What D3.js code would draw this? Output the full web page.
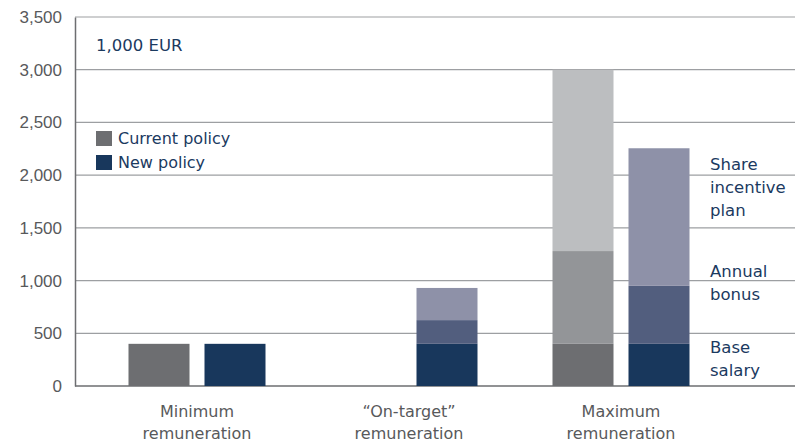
<!DOCTYPE html>
<html>
<head>
<meta charset="utf-8">
<script src="https://cdn.jsdelivr.net/npm/d3@7"></script>
<style>
  body { margin: 0; background: #fff; }
  svg { font-family: "DejaVu Sans", sans-serif; }
</style>
</head>
<body>
<svg id="chart" width="795" height="439"></svg>
<script>
const categories = ['Minimum remuneration', '\u201COn-target\u201D remuneration', 'Maximum remuneration'];
const policies = ['Current policy', 'New policy'];
const components = ['Base salary', 'Annual bonus', 'Share incentive plan'];
// values in 1,000 EUR: [base, bonus, share]
const currentPolicy = [[400, 0, 0], [0, 0, 0], [400, 880, 1720]];
const newPolicy = [[400, 0, 0], [400, 225, 305], [400, 550, 1305]];
const yTicks = [0, 500, 1000, 1500, 2000, 2500, 3000, 3500];

const colors = {
  'Current policy': ['#6d6e71', '#939598', '#bcbec0'],
  'New policy': ['#18375c', '#525e7e', '#8e91a8'],
};
const textColor = '#1b3a5f';
const axisColor = '#58595b';

const svg = d3.select('#chart');
const margin = {top: 17, left: 75, bottom: 53};
const height = 439 - margin.bottom;

const x = d3.scaleBand()
    .domain(categories)
    .range([91, 727]);

const xInner = d3.scaleBand()
    .domain(policies)
    .range([0, 137])
    .paddingInner(15 / 76);

const y = d3.scaleLinear()
    .domain([0, 3500])
    .range([height, margin.top]);

// gridlines
svg.append('g')
    .selectAll('line')
    .data(yTicks)
    .enter().append('line')
    .attr('x1', margin.left)
    .attr('x2', 795)
    .attr('y1', d => y(d))
    .attr('y2', d => y(d))
    .attr('stroke', d => d === 0 ? '#6d6e71' : '#9d9fa2')
    .attr('stroke-width', d => d === 0 ? 1.5 : 1.2);

// y axis
const yAxis = svg.append('g')
    .attr('transform', `translate(${margin.left},0)`)
    .call(d3.axisLeft(y).tickValues(yTicks).tickSize(0).tickPadding(13).tickFormat(d3.format(',')));
yAxis.select('.domain').attr('stroke', '#6d6e71').attr('stroke-width', 1.5);
yAxis.selectAll('text')
    .attr('fill', axisColor)
    .style('font-size', '17px');

// stacked bars
const data = [];
categories.forEach((cat, i) => {
  [currentPolicy, newPolicy].forEach((series, p) => {
    let base = 0;
    series[i].forEach((v, c) => {
      if (v > 0) {
        data.push({cat, policy: policies[p], comp: c, y0: base, y1: base + v});
      }
      base += v;
    });
  });
});

const cx = cat => x(cat) + (x.bandwidth() - 137) / 2;

svg.append('g')
    .selectAll('rect')
    .data(data)
    .enter().append('rect')
    .attr('x', d => cx(d.cat) + xInner(d.policy))
    .attr('width', xInner.bandwidth())
    .attr('y', d => y(d.y1))
    .attr('height', d => y(d.y0) - y(d.y1))
    .attr('fill', d => colors[d.policy][d.comp]);

// category labels (second line is clipped by the picture edge, as in the original)
const xl = svg.append('g');
categories.forEach(cat => {
  const words = cat.split(' ');
  const t = xl.append('text')
      .attr('x', x(cat) + x.bandwidth() / 2)
      .attr('y', 417)
      .attr('text-anchor', 'middle')
      .attr('fill', axisColor)
      .style('font-size', '16px');
  words.forEach((w, k) => {
    t.append('tspan')
        .attr('x', x(cat) + x.bandwidth() / 2)
        .attr('dy', k === 0 ? 0 : 22)
        .text(w);
  });
});

// unit label
svg.append('text')
    .attr('x', 96)
    .attr('y', 51)
    .attr('fill', textColor)
    .style('font-size', '16.5px')
    .text('1,000 EUR');

// legend
const legend = svg.append('g').attr('transform', 'translate(96,131)');
policies.forEach((p, i) => {
  legend.append('rect')
      .attr('x', 0)
      .attr('y', i * 24)
      .attr('width', 16)
      .attr('height', 15)
      .attr('fill', colors[p][0]);
  legend.append('text')
      .attr('x', 22)
      .attr('y', i * 24 + 13)
      .attr('fill', textColor)
      .style('font-size', '16px')
      .text(p);
});

// component labels next to the maximum new bar
const compLines = [['Base', 'salary'], ['Annual', 'bonus'], ['Share', 'incentive', 'plan']];
const compY = [353, 277, 170];
compLines.forEach((lines, c) => {
  const t = svg.append('text')
      .attr('x', 710)
      .attr('y', compY[c])
      .attr('fill', textColor)
      .style('font-size', '16.5px');
  lines.forEach((w, k) => {
    t.append('tspan')
        .attr('x', 710)
        .attr('dy', k === 0 ? 0 : 23)
        .text(w);
  });
});
</script>
</body>
</html>
